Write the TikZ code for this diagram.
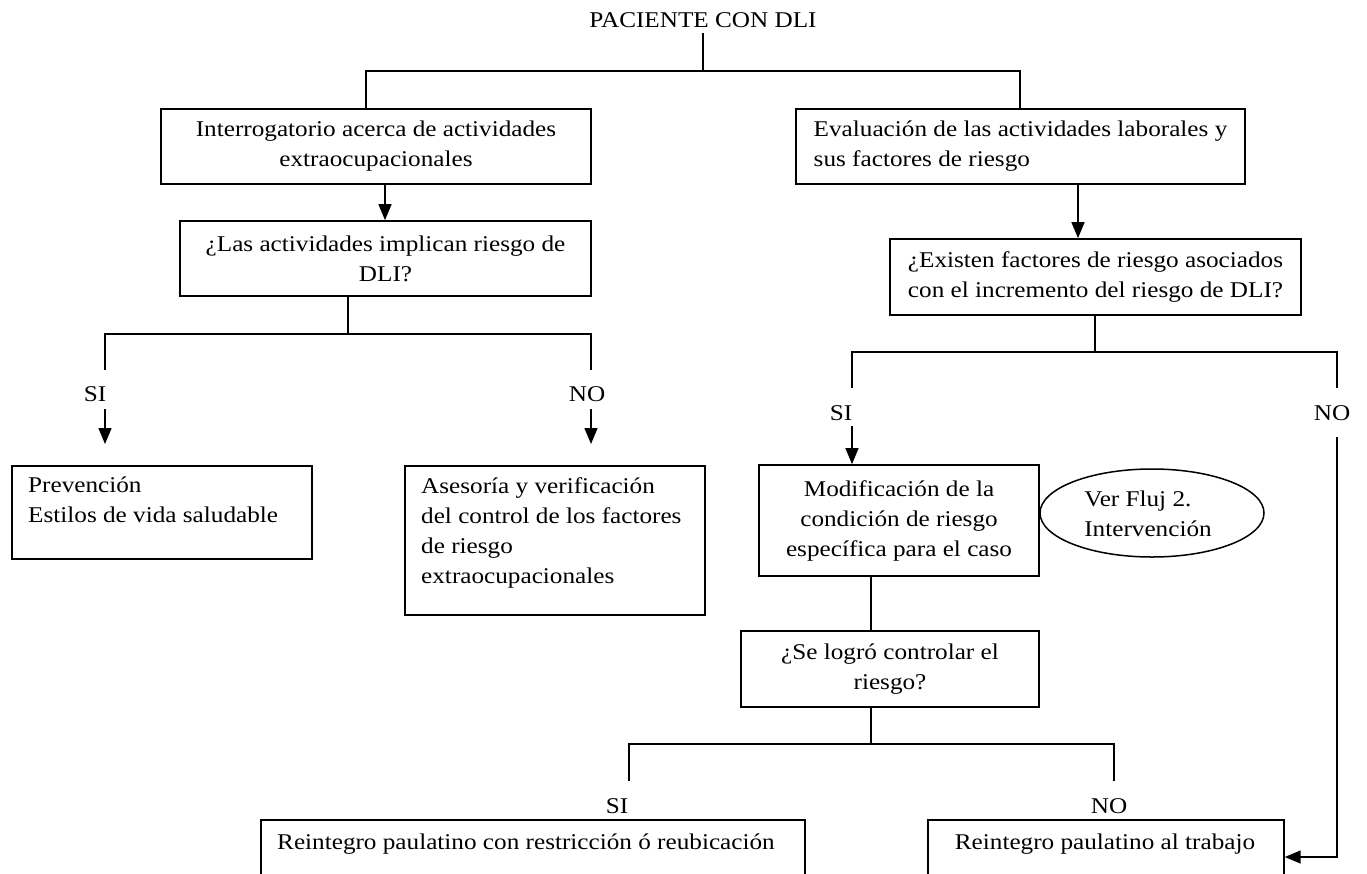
\documentclass[tikz,border=0pt]{standalone}
\usepackage{fontspec}
\setmainfont{Liberation Serif}[FakeStretch=1.12]
\usetikzlibrary{arrows.meta,shapes.geometric}
\newcommand\dfont{\fontsize{22.5}{30}\selectfont}
\begin{document}
\begin{tikzpicture}[x=1pt,y=-1pt,
 box/.style={draw,line width=1.7pt,inner sep=0pt,align=center,font=\dfont},
 frame/.style={draw,line width=1.7pt,inner sep=0pt,anchor=north west},
 txt/.style={inner sep=0pt,font=\dfont},
 ln/.style={line width=1.5pt},
 arr/.style={line width=1.5pt,-{Triangle[length=16pt,width=13pt]}}]
\useasboundingbox (0,0) rectangle (1367,873);
\fill[white] (0,0) rectangle (1367,873);
\clip (0,0) rectangle (1367,873);
% title
\node[txt] (pac) at (703,20) {PACIENTE CON DLI};
\coordinate (h1L) at (366,71);
\coordinate (h1R) at (1020,71);
% first level boxes
\node[box,minimum width=430pt,minimum height=75pt] (int) at (376,146.5) {Interrogatorio acerca de actividades\\extraocupacionales};
\node[box,align=left,minimum width=449pt,minimum height=75pt] (eval) at (1020.5,146.5) {Evaluación de las actividades laborales y\\sus factores de riesgo};
\draw[ln] ([yshift=-5pt]pac.south) -- (pac.south |- h1L);
\draw[ln] (int.north -| h1L) -- (h1L) -- (h1R) -- (eval.north -| h1R);
% left question
\node[box,minimum width=411pt,minimum height=75pt] (las) at (385.5,258.5) {¿Las actividades implican riesgo de\\DLI?};
\coordinate (xa) at (385,0);
\draw[arr] (int.south -| xa) -- (las.north -| xa);
\coordinate (j1) at (348,334);
\coordinate (d1L) at (105,370);
\coordinate (d1R) at (591,370);
\draw[ln] (las.south -| j1) -- (j1);
\draw[ln] (d1L) |- (j1) -| (d1R);
\node[txt] (si1) at (95,394) {SI};
\node[txt] (no1) at (587,394) {NO};
\node[frame,minimum width=300pt,minimum height=93pt] (prev) at (11,465) {};
\node[txt,align=left,anchor=north west] (prevt) at (28,477) {Prevención\\Estilos de vida saludable};
\node[frame,minimum width=300pt,minimum height=149pt] (ases) at (404,465) {};
\node[txt,align=left,anchor=north west] (asest) at (421,477) {Asesoría y verificación\\del control de los factores\\de riesgo\\extraocupacionales};
\coordinate (a1L) at (105,409);
\coordinate (a1R) at (591,409);
\draw[arr] (a1L) -- ([yshift=21pt]prev.north -| a1L);
\draw[arr] (a1R) -- ([yshift=21pt]ases.north -| a1R);
% right question
\node[box,minimum width=411pt,minimum height=76pt] (exist) at (1095.5,277) {¿Existen factores de riesgo asociados\\con el incremento del riesgo de DLI?};
\coordinate (xb) at (1078,0);
\draw[arr] (eval.south -| xb) -- (exist.north -| xb);
\coordinate (j2) at (1095,352);
\coordinate (d2L) at (852,388);
\coordinate (d2R) at (1337,388);
\draw[ln] (exist.south -| j2) -- (j2);
\draw[ln] (d2L) |- (j2) -| (d2R);
\node[txt] (si2) at (841,413) {SI};
\node[txt] (no2) at (1332,413) {NO};
\node[box,minimum width=280pt,minimum height=111pt] (mod) at (899,520.5) {Modificación de la\\condición de riesgo\\específica para el caso};
\node[draw,ellipse,line width=1.5pt,inner sep=0pt,minimum width=224pt,minimum height=88pt] (ver) at (1152,513) {};
\node[txt,align=left] (vert) at (1148,514) {Ver Fluj 2.\\Intervención};
\coordinate (a2L) at (852,426);
\draw[arr] (a2L) -- (mod.north -| a2L);
% control question
\node[box,minimum width=298pt,minimum height=76pt] (se) at (890,669) {¿Se logró controlar el\\riesgo?};
\coordinate (xc) at (871,0);
\draw[ln] (mod.south -| xc) -- (se.north -| xc);
\coordinate (j3) at (871,744);
\coordinate (d3L) at (629,781);
\coordinate (d3R) at (1114,781);
\draw[ln] (se.south -| j3) -- (j3);
\draw[ln] (d3L) |- (j3) -| (d3R);
\node[txt] (si3) at (617,806) {SI};
\node[txt] (no3) at (1109,806) {NO};
% final boxes
\node[frame,minimum width=544pt,minimum height=140pt] (rl) at (260,819) {};
\node[txt,anchor=west] (rlt) at (277,844) {Reintegro paulatino con restricción ó reubicación};
\node[frame,minimum width=356pt,minimum height=140pt] (rr) at (927,819) {};
\node[txt] (rrt) at (1105,844) {Reintegro paulatino al trabajo};
% NO path
\coordinate (a2R) at (1337,437);
\coordinate (turn) at (1337,857);
\draw[arr] (a2R) -- (turn) -- (turn -| rr.east);
\end{tikzpicture}
\end{document}
